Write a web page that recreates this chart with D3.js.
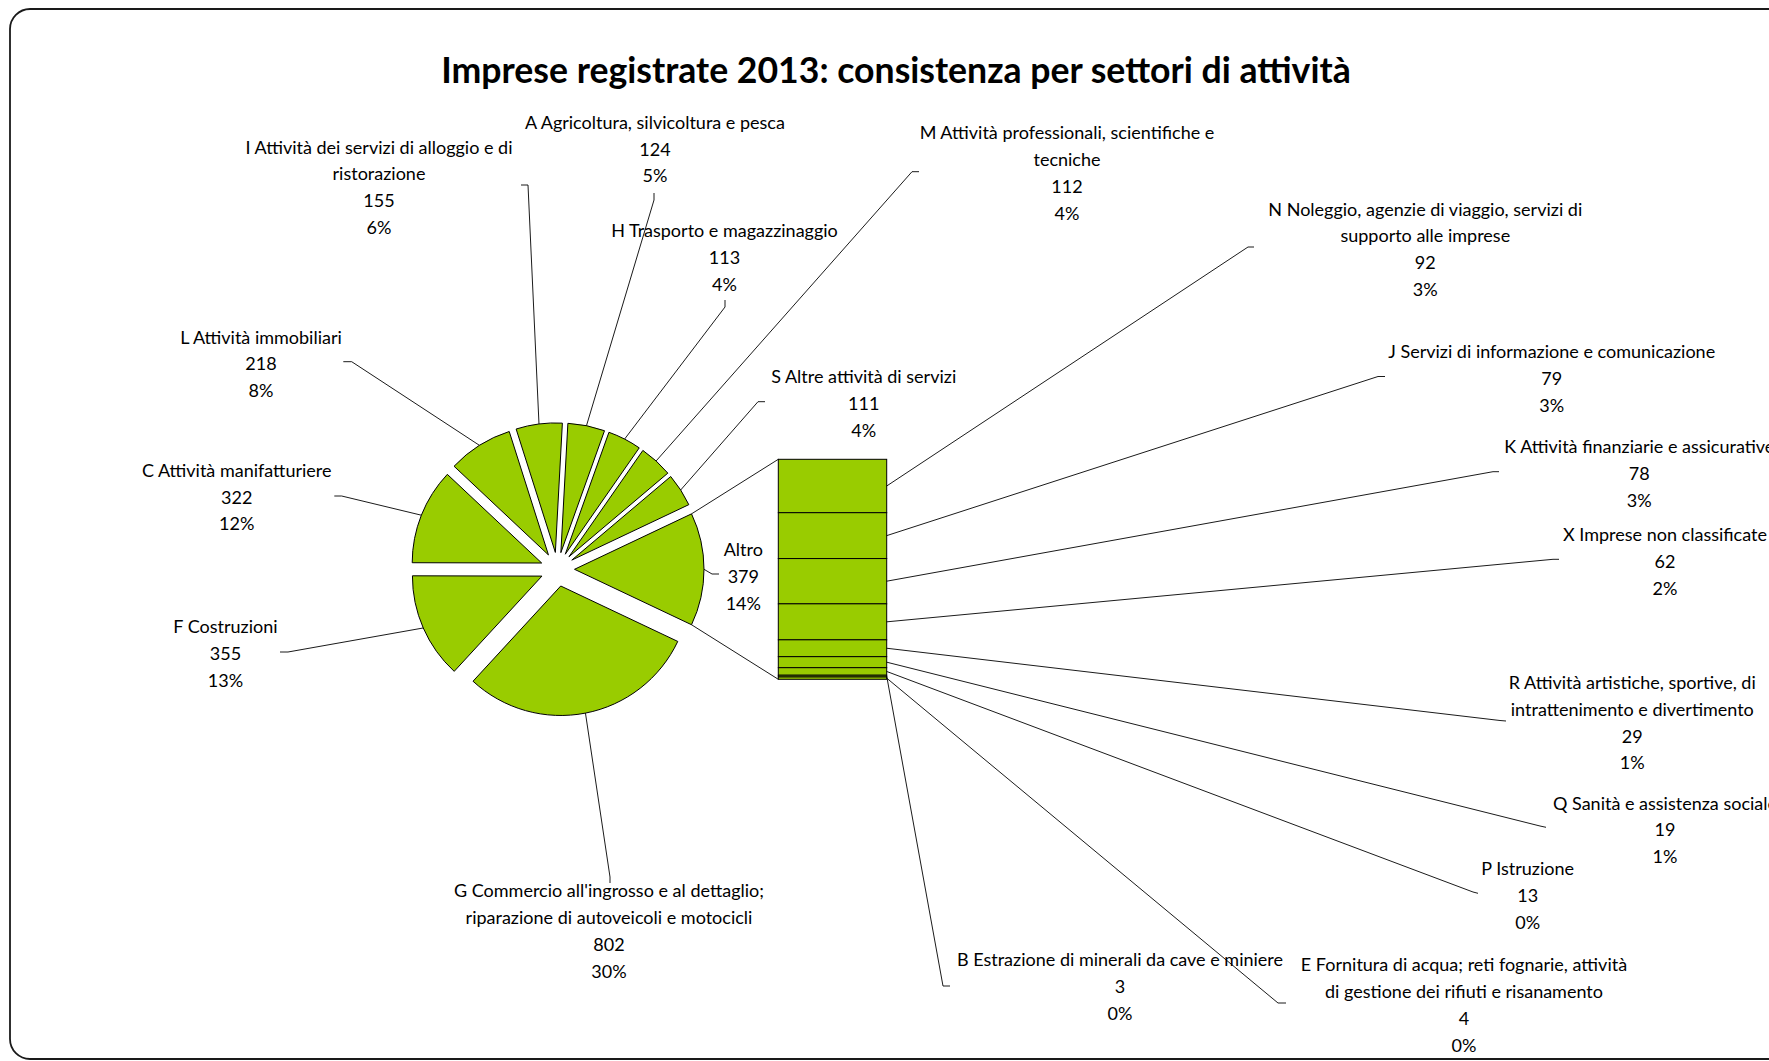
<!DOCTYPE html>
<meta charset="utf-8">
<head>
    <title>Imprese registrate 2013</title>
</head>
<style>
body { margin: 0; background: #fff; }
svg { display: block; }
.slice, .bar { fill: #99cc00; stroke: #000; stroke-width: 1; }
.lead { fill: none; stroke: #000; stroke-width: 0.9; }
.lbl text { font-family: Lato, "Noto Sans", sans-serif; fill: #000; text-anchor: middle; }
.title { font-family: Lato, "Noto Sans", sans-serif; font-weight: bold; text-anchor: middle; }
</style>
<body>
<script src="https://cdn.jsdelivr.net/npm/d3@7"></script>
<script>

// main pie, clockwise from the "Altro" slice
var mainCodes  = ["G", "F", "C", "L", "I", "A", "H", "M", "S"];
var mainNames  = ["G Commercio all'ingrosso e al dettaglio;\nriparazione di autoveicoli e motocicli",
                  "F Costruzioni",
                  "C Attività manifatturiere",
                  "L Attività immobiliari",
                  "I Attività dei servizi di alloggio e di\nristorazione",
                  "A Agricoltura, silvicoltura e pesca",
                  "H Trasporto e magazzinaggio",
                  "M Attività professionali, scientifiche e\ntecniche",
                  "S Altre attività di servizi"];
var mainValues = [802, 355, 322, 218, 155, 124, 113, 112, 111];

// secondary bar, top to bottom
var otherCodes  = ["N", "J", "K", "X", "R", "Q", "P", "B", "E"];
var otherNames  = ["N Noleggio, agenzie di viaggio, servizi di\nsupporto alle imprese",
                   "J Servizi di informazione e comunicazione",
                   "K Attività finanziarie e assicurative",
                   "X Imprese non classificate",
                   "R Attività artistiche, sportive, di\nintrattenimento e divertimento",
                   "Q Sanità e assistenza sociale",
                   "P Istruzione",
                   "B Estrazione di minerali da cave e miniere",
                   "E Fornitura di acqua; reti fognarie, attività\ndi gestione dei rifiuti e risanamento"];
var otherValues = [92, 79, 78, 62, 29, 19, 13, 3, 4];

var otherName = "Altro";
var title = "Imprese registrate 2013: consistenza per settori di attività";

// label placement (pixel layout): first line centre + leader elbow/end
var layout = {
  A: {x: 655, y: 122.5, lead: [[654, 200], [654, 193]]},
  I: {x: 379, y: 147.3, lead: [[528, 185], [521, 185]]},
  H: {x: 724.5, y: 230.7, lead: [[725, 307], [725, 300]]},
  M: {x: 1067, y: 133, lead: [[912, 171.7], [919, 171.7]]},
  S: {x: 863.7, y: 376.7, lead: [[758, 401.7], [765, 401.7]]},
  L: {x: 261, y: 337.3, lead: [[351.7, 361.7], [343.3, 361.7]]},
  C: {x: 236.7, y: 470.5, lead: [[341.7, 496], [334.3, 496]]},
  F: {x: 225.5, y: 627, lead: [[288, 652], [280, 652]]},
  G: {x: 609, y: 891, lead: [[610, 877], [610, 883]]},
  Altro: {x: 743.3, y: 550, lead: [[712, 574], [719, 574]]},
  N: {x: 1425.3, y: 209.3, lead: [[1248, 247], [1254, 247]]},
  J: {x: 1551.7, y: 351.7, lead: [[1378, 376.5], [1385, 376.5]]},
  K: {x: 1639.3, y: 446.7, lead: [[1493, 471.7], [1499, 471.7]]},
  X: {x: 1665, y: 535, lead: [[1553, 559.3], [1559, 559.3]]},
  R: {x: 1632.3, y: 682.7, lead: [[1500, 720.5], [1506, 721]]},
  Q: {x: 1665, y: 803.3, lead: [[1540, 826], [1546, 827.3]]},
  P: {x: 1527.7, y: 868.7, lead: [[1473, 892], [1478, 893.3]]},
  B: {x: 1120, y: 960, lead: [[943, 986], [950, 986]]},
  E: {x: 1464, y: 965, lead: [[1278, 1003], [1286, 1003]]}
};

var W = 1769, H = 1061;
var cx = 557.5, cy = 569.3, R = 129.5, explode = 17;
var barLeft = 778.3, barRight = 886.7, barTop = 459.3, barBottom = 679.3;
var lineH = 26.7;

var otherTotal = d3.sum(otherValues);
var total = d3.sum(mainValues) + otherTotal;

var pieData = [{code: "Altro", name: otherName, value: otherTotal}].concat(
  mainCodes.map(function(c, i) { return {code: c, name: mainNames[i], value: mainValues[i]}; }));

var a0 = Math.PI / 2 - Math.PI * otherTotal / total;
var pie = d3.pie().sort(null).value(function(d) { return d.value; })
    .startAngle(a0).endAngle(a0 + 2 * Math.PI);
var arc = d3.arc().innerRadius(0).outerRadius(R);

var svg = d3.select("body").append("svg")
    .attr("width", W)
    .attr("height", H);

// chart frame
svg.append("rect")
    .attr("x", 10).attr("y", 9)
    .attr("width", 1800).attr("height", 1050)
    .attr("rx", 20)
    .style("fill", "#fff")
    .style("stroke", "#1a1a1a")
    .style("stroke-width", 1.8);

// font sizes fitted to the label widths measured on the picture
function fitSize(txt, target, bold) {
  var t = svg.append("text")
      .style("font-family", "Lato, 'Noto Sans', sans-serif")
      .style("font-weight", bold ? "bold" : "normal")
      .style("font-size", "100px")
      .text(txt);
  var w = t.node().getComputedTextLength();
  t.remove();
  return 100 * target / w;
}
var fs = fitSize("J Servizi di informazione e comunicazione", 327, false);
var fsTitle = fitSize(title, 910, true);

svg.append("text")
    .attr("class", "title")
    .attr("x", 896)
    .attr("y", 83)
    .style("font-size", fsTitle + "px")
    .text(title);

var arcs = pie(pieData);

function offset(a, d) { return [Math.sin(a) * d, -Math.cos(a) * d]; }

var slices = svg.append("g").attr("class", "pie")
    .attr("transform", "translate(" + cx + "," + cy + ")");

slices.selectAll("path")
    .data(arcs)
  .enter().append("path")
    .attr("class", "slice")
    .attr("transform", function(d) {
      var o = offset((d.startAngle + d.endAngle) / 2, explode);
      return "translate(" + o[0] + "," + o[1] + ")";
    })
    .attr("d", arc);

// connector from "Altro" slice to the bar
var alt = arcs[0];
var altOff = offset((alt.startAngle + alt.endAngle) / 2, explode);
var p1 = offset(alt.startAngle, R), p2 = offset(alt.endAngle, R);
svg.append("path").attr("class", "lead")
    .attr("d", "M" + (cx + altOff[0] + p1[0]) + "," + (cy + altOff[1] + p1[1]) + "L" + barLeft + "," + barTop);
svg.append("path").attr("class", "lead")
    .attr("d", "M" + (cx + altOff[0] + p2[0]) + "," + (cy + altOff[1] + p2[1]) + "L" + barLeft + "," + barBottom);

// secondary bar
var y = d3.scaleLinear().domain([0, otherTotal]).range([barTop, barBottom]);
var cum = [0].concat(Array.from(d3.cumsum(otherValues)));
var barData = otherCodes.map(function(c, i) {
  return {code: c, name: otherNames[i], value: otherValues[i], y0: cum[i], y1: cum[i + 1]};
});

svg.append("g").selectAll("rect")
    .data(barData)
  .enter().append("rect")
    .attr("class", "bar")
    .attr("x", barLeft)
    .attr("width", barRight - barLeft)
    .attr("y", function(d) { return y(d.y0); })
    .attr("height", function(d) { return y(d.y1) - y(d.y0); });

// leader lines
var leads = [];
arcs.forEach(function(d) {
  var m = (d.startAngle + d.endAngle) / 2;
  var o = offset(m, explode + R);
  leads.push({code: d.data.code, start: [cx + o[0], cy + o[1]]});
});
barData.forEach(function(d) {
  leads.push({code: d.code, start: [barRight, y((d.y0 + d.y1) / 2)]});
});

svg.append("g").selectAll("path")
    .data(leads)
  .enter().append("path")
    .attr("class", "lead")
    .attr("d", function(d) {
      var l = layout[d.code].lead;
      return d3.line()([d.start, l[0], l[1]]);
    });

// labels
var labelData = pieData.concat(barData);
var lbl = svg.append("g").attr("class", "lbl")
    .style("font-size", fs + "px");

labelData.forEach(function(d) {
  var pos = layout[d.code];
  var lines = d.name.split("\n").concat([String(d.value), Math.round(d.value / total * 100) + "%"]);
  var t = lbl.append("text");
  lines.forEach(function(s, i) {
    t.append("tspan")
        .attr("x", pos.x)
        .attr("y", pos.y + i * lineH + fs * 0.36)
        .text(s);
  });
});

</script>
</body>
